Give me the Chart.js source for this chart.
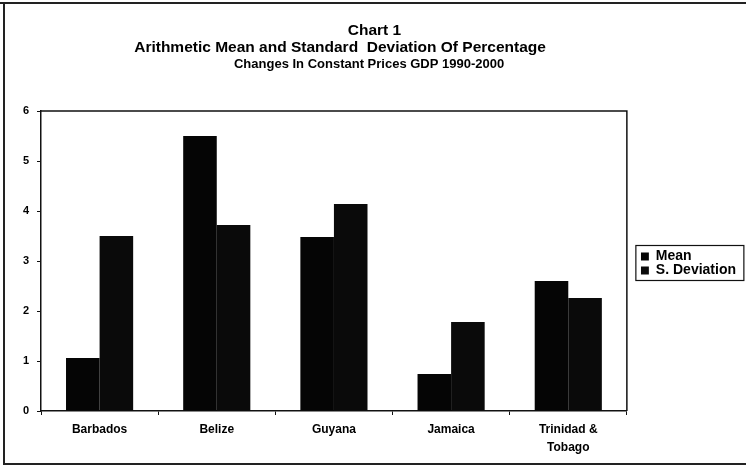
<!DOCTYPE html>
<html>
<head>
<meta charset="utf-8">
<script src="https://cdn.jsdelivr.net/npm/chart.js@4/dist/chart.umd.min.js"></script>
<style>
  html, body { margin: 0; padding: 0; background: #fff; }
  #wrap { width: 746px; height: 467px; position: relative; }
</style>
</head>
<body>
<div id="wrap"><canvas id="c" width="746" height="467"></canvas></div>
<script>
const categories = ['Barbados', 'Belize', 'Guyana', 'Jamaica', ['Trinidad &', 'Tobago']];
const meanValues = [1.06, 5.5, 3.48, 0.74, 2.6];
const sdValues = [3.5, 3.72, 4.14, 1.78, 2.26];
const seriesNames = ['Mean', 'S. Deviation'];
const titleLines = ['Chart 1', 'Arithmetic Mean and Standard  Deviation Of Percentage                '];
const subtitleLines = ['Changes In Constant Prices GDP 1990-2000   '];
const yTicks = [0, 1, 2, 3, 4, 5, 6];

const FONT = "'Liberation Sans', Arial, Helvetica, sans-serif";
const LEGEND_SHIFT_X = 14;
const LEGEND_SHIFT_Y = 30;

const framePlugin = {
  id: 'frames',
  afterLayout(chart) {
    const lg = chart.legend;
    if (lg) {
      lg.left += LEGEND_SHIFT_X; lg.right += LEGEND_SHIFT_X;
      lg.top += LEGEND_SHIFT_Y; lg.bottom += LEGEND_SHIFT_Y;
    }
  },
  afterDraw(chart) {
    const ctx = chart.ctx;
    const a = chart.chartArea;
    ctx.save();
    // plot area box (top & right sides)
    ctx.strokeStyle = '#111';
    ctx.lineWidth = 1.5;
    ctx.beginPath();
    ctx.moveTo(a.left, a.top);
    ctx.lineTo(a.right, a.top);
    ctx.lineTo(a.right, a.bottom);
    ctx.stroke();
    // outer frame
    ctx.lineWidth = 2;
    ctx.strokeStyle = '#222';
    ctx.beginPath();
    ctx.moveTo(0, 3);
    ctx.lineTo(746, 3);
    ctx.moveTo(4, 3);
    ctx.lineTo(4, 465);
    ctx.moveTo(4, 464);
    ctx.lineTo(746, 464);
    ctx.stroke();
    // legend frame
    const lg = chart.legend;
    if (lg && lg.legendItems && lg.legendItems.length) {
      const fs = 14, n = lg.legendItems.length;
      const colH = n * fs;
      const top = lg.top + (lg.bottom - lg.top - colH) / 2;
      ctx.lineWidth = 1.2;
      ctx.strokeStyle = '#111';
      ctx.strokeRect(lg.left - 5, top - 4, 108, colH + 7);
    }
    ctx.restore();
  }
};

new Chart(document.getElementById('c'), {
  type: 'bar',
  data: {
    labels: categories,
    datasets: [
      { label: seriesNames[0], data: meanValues, backgroundColor: '#050505', borderWidth: 0 },
      { label: seriesNames[1], data: sdValues, backgroundColor: '#0a0a0a', borderWidth: 0 }
    ]
  },
  options: {
    responsive: false,
    animation: false,
    devicePixelRatio: 1,
    layout: { padding: { left: 17, right: 14, top: 0, bottom: 0 } },
    datasets: { bar: { categoryPercentage: 0.573, barPercentage: 1.0 } },
    plugins: {
      title: {
        display: true,
        text: titleLines,
        color: '#000',
        font: { family: FONT, size: 15.5, weight: 'bold', lineHeight: '16.5px' },
        padding: { top: 22.75, bottom: 0 }
      },
      subtitle: {
        display: true,
        text: subtitleLines,
        color: '#000',
        font: { family: FONT, size: 13, weight: 'bold', lineHeight: '15px' },
        padding: { top: 1.25, bottom: 39 }
      },
      legend: {
        display: true,
        position: 'right',
        align: 'center',
        labels: {
          color: '#000',
          boxWidth: 8,
          boxHeight: 8,
          padding: 0,
          font: { family: FONT, size: 14, weight: 'bold' }
        }
      },
      tooltip: { enabled: false }
    },
    scales: {
      x: {
        offset: true,
        grid: { display: true, drawOnChartArea: false, drawTicks: true, tickLength: 4, color: '#111', offset: true },
        border: { display: true, color: '#111', width: 1.5 },
        ticks: { color: '#000', font: { family: FONT, size: 12, weight: 'bold', lineHeight: '18px' }, padding: 6, maxRotation: 0, autoSkip: false },
        afterFit(scale) { scale.height = 56; }
      },
      y: {
        min: 0,
        max: 6,
        afterBuildTicks(scale) { scale.ticks = yTicks.map(v => ({ value: v })); },
        grid: { display: true, drawOnChartArea: false, drawTicks: true, tickLength: 4, color: '#111' },
        border: { display: true, color: '#111', width: 1.5 },
        ticks: { color: '#000', font: { family: FONT, size: 11, weight: 'bold' }, padding: 8 },
        afterFit(scale) { scale.width = 24; }
      }
    }
  },
  plugins: [framePlugin]
});
</script>
</body>
</html>
